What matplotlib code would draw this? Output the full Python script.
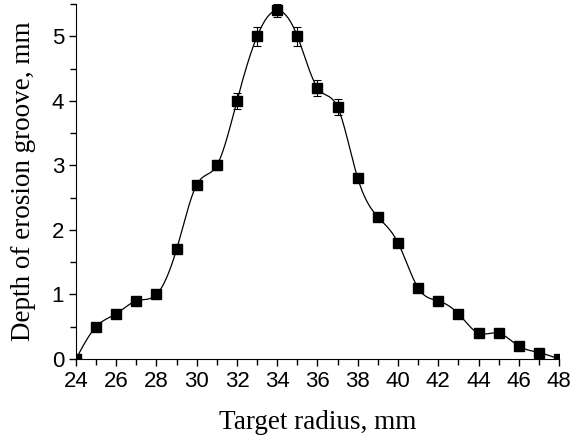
import numpy as np
import matplotlib
matplotlib.use("Agg")
import matplotlib.pyplot as plt
from matplotlib.ticker import MultipleLocator

# target radius, mm
radius = [24, 25, 26, 27, 28, 29, 30, 31, 32, 33, 34, 35, 36,
          37, 38, 39, 40, 41, 42, 43, 44, 45, 46, 47, 48]
# depth of erosion groove, mm
depth = [0.0, 0.5, 0.7, 0.9, 1.0, 1.7, 2.7, 3.0, 4.0, 5.0, 5.4, 5.0, 4.2,
         3.9, 2.8, 2.2, 1.8, 1.1, 0.9, 0.7, 0.4, 0.4, 0.2, 0.1, 0.0]
err = [0.0, 0.0, 0.0, 0.0, 0.0, 0.0, 0.05, 0.08, 0.12, 0.15, 0.1, 0.15, 0.12,
       0.12, 0.05, 0.0, 0.0, 0.0, 0.0, 0.0, 0.0, 0.0, 0.0, 0.0, 0.0]


def natural_spline(x, y, xs):
    x = np.asarray(x, float)
    y = np.asarray(y, float)
    n = len(x)
    h = np.diff(x)
    A = np.zeros((n, n))
    b = np.zeros(n)
    A[0, 0] = A[-1, -1] = 1
    for i in range(1, n - 1):
        A[i, i - 1] = h[i - 1]
        A[i, i] = 2 * (h[i - 1] + h[i])
        A[i, i + 1] = h[i]
        b[i] = 3 * ((y[i + 1] - y[i]) / h[i] - (y[i] - y[i - 1]) / h[i - 1])
    c = np.linalg.solve(A, b)
    idx = np.clip(np.searchsorted(x, xs) - 1, 0, n - 2)
    dx = xs - x[idx]
    hi = h[idx]
    bb = (y[idx + 1] - y[idx]) / hi - hi * (2 * c[idx] + c[idx + 1]) / 3
    dd = (c[idx + 1] - c[idx]) / (3 * hi)
    return y[idx] + bb * dx + c[idx] * dx ** 2 + dd * dx ** 3


fig = plt.figure(figsize=(5.73, 4.41), dpi=100)
ax = fig.add_axes([0.1326, 0.186, 0.843, 0.805])

xs = np.linspace(radius[0], radius[-1], 600)
ax.plot(xs, natural_spline(radius, depth, xs), color="black", lw=0.9)
ax.errorbar(radius, depth, yerr=err, fmt="s", color="black", ms=7.5,
            ecolor="black", elinewidth=0.8, capsize=3, capthick=0.8)

ax.set_xlim(24, 48)
ax.set_ylim(0, 5.5)
ax.xaxis.set_major_locator(MultipleLocator(2))
ax.xaxis.set_minor_locator(MultipleLocator(1))
ax.yaxis.set_major_locator(MultipleLocator(1))
ax.yaxis.set_minor_locator(MultipleLocator(0.5))
for s in ("top", "right"):
    ax.spines[s].set_visible(False)
ax.tick_params(which="both", direction="out", width=1, labelsize=16)
ax.tick_params(which="major", length=5)
ax.tick_params(which="minor", length=4)
for lab in ax.get_xticklabels() + ax.get_yticklabels():
    lab.set_family("Liberation Sans")

ax.set_xlabel("Target radius, mm", family="Liberation Serif", fontsize=19.5,
              labelpad=13)
ax.set_ylabel("Depth of erosion groove, mm", family="Liberation Serif",
              fontsize=19.5, labelpad=11)

fig.savefig("out.png", dpi=100)
